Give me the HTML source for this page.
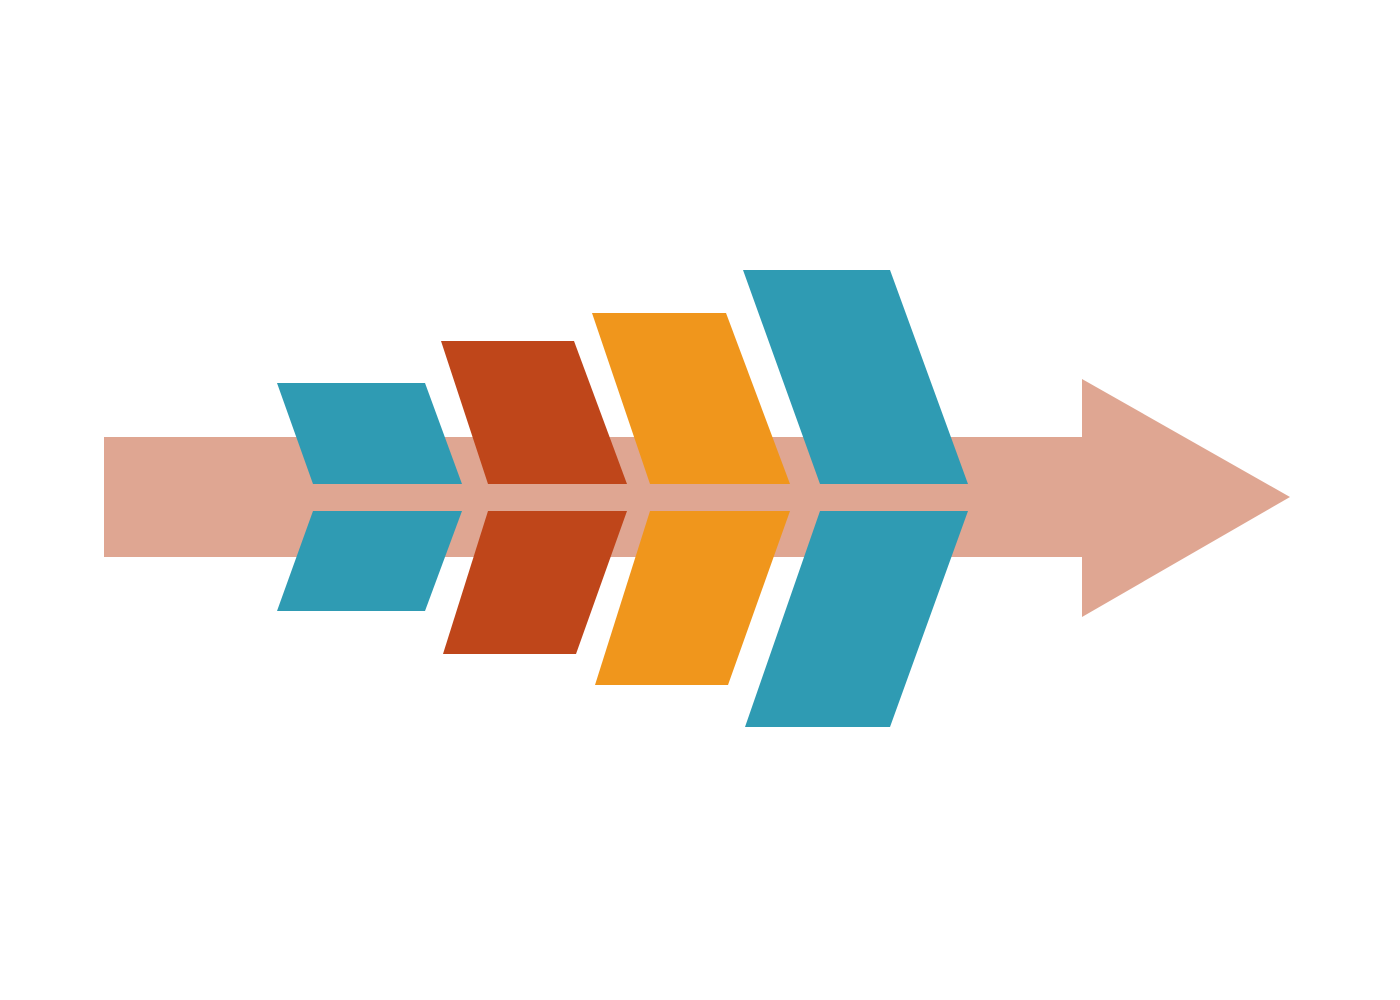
<!DOCTYPE html>
<html><head><meta charset="utf-8"><style>
html,body{margin:0;padding:0;background:#fff;}
svg{display:block;}
</style></head><body>
<svg width="1400" height="1000" viewBox="0 0 1400 1000" xmlns="http://www.w3.org/2000/svg">
<rect width="1400" height="1000" fill="#fff"/>
<rect x="104" y="437" width="980" height="120" fill="#dfa692"/>
<polygon points="1082,379 1290,497 1082,617" fill="#dfa692"/>
<polygon points="277,383 425,383 462,484 313,484" fill="#2f9bb3"/>
<polygon points="313,511 462,511 425,611 277,611" fill="#2f9bb3"/>
<polygon points="441,341 574,341 627,484 488,484" fill="#bf461a"/>
<polygon points="488,511 627,511 576,654 443,654" fill="#bf461a"/>
<polygon points="592,313 726,313 790,484 650,484" fill="#f0961c"/>
<polygon points="650,511 790,511 728,685 595,685" fill="#f0961c"/>
<polygon points="743,270 890,270 968,484 820,484" fill="#2f9bb3"/>
<polygon points="820,511 968,511 890,727 745,727" fill="#2f9bb3"/>
</svg>
</body></html>
